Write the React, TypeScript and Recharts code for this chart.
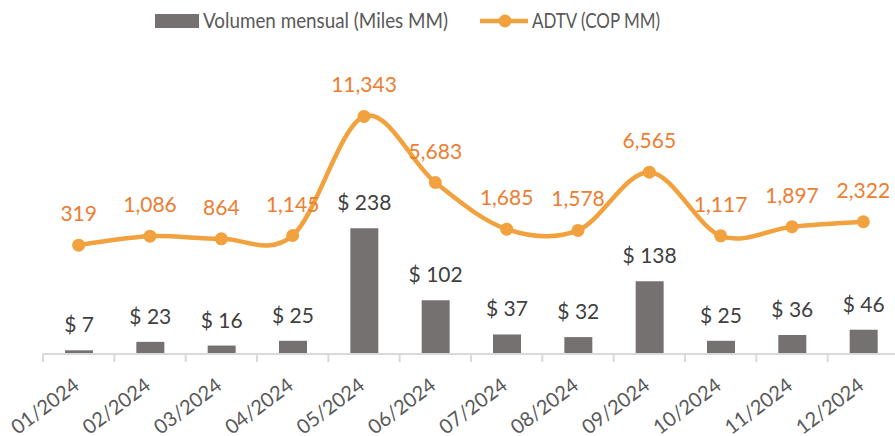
import React from "react";
import { ComposedChart, Bar, Line, XAxis, YAxis, LabelList, Legend } from "recharts";

const months = ["01/2024","02/2024","03/2024","04/2024","05/2024","06/2024","07/2024","08/2024","09/2024","10/2024","11/2024","12/2024"];
const volumen = [7, 23, 16, 25, 238, 102, 37, 32, 138, 25, 36, 46];
const adtv = [319, 1086, 864, 1145, 11343, 5683, 1685, 1578, 6565, 1117, 1897, 2322];

const data = months.map((m, i) => ({ month: m, vol: volumen[i], adtv: adtv[i] }));

const FONT = "Lato, 'Open Sans', sans-serif";
const BAR_COLOR = "#767171";
const LINE_COLOR = "#F1A13D";
const LINE_LABEL = "#ED7D31";
const TEXT_GRAY = "#595959";
const AXIS_GRAY = "#D9D9D9";

// Catmull-Rom style cardinal curve (like Excel's smoothed line)
function cardinalCurve(context: any) {
  const k = 1 / 6;
  let x0 = NaN, y0 = NaN, x1 = NaN, y1 = NaN, x2 = NaN, y2 = NaN;
  let pt = 0;
  let line: number = NaN;
  const seg = (x: number, y: number) => {
    context.bezierCurveTo(
      x1 + k * (x2 - x0), y1 + k * (y2 - y0),
      x2 + k * (x1 - x), y2 + k * (y1 - y),
      x2, y2
    );
  };
  return {
    areaStart() { line = 0; },
    areaEnd() { line = NaN; },
    lineStart() { x0 = x1 = x2 = y0 = y1 = y2 = NaN; pt = 0; },
    lineEnd() {
      switch (pt) {
        case 2: context.lineTo(x2, y2); break;
        case 3: seg(x1, y1); break;
      }
      if (line || (line !== 0 && pt === 1)) context.closePath();
      line = 1 - line;
    },
    point(x: number, y: number) {
      x = +x; y = +y;
      switch (pt) {
        case 0: pt = 1; line ? context.lineTo(x, y) : context.moveTo(x, y); break;
        case 1: pt = 2; x1 = x; y1 = y; break;
        case 2: pt = 3; seg(x, y); break;
        default: seg(x, y); break;
      }
      x0 = x1; x1 = x2; x2 = x;
      y0 = y1; y1 = y2; y2 = y;
    },
  };
}

const CategoryTick = (props: any) => {
  const { x, y, payload, index, visibleTicksCount } = props;
  const half = payload && payload.offset ? payload.offset : 0;
  const isLast = index === (visibleTicksCount ?? 12) - 1;
  return (
    <g>
      <line x1={x - half} x2={x - half} y1={y - 8} y2={y} stroke={AXIS_GRAY} strokeWidth={2} />
      {isLast && <line x1={x + half} x2={x + half} y1={y - 8} y2={y} stroke={AXIS_GRAY} strokeWidth={2} />}
      <text
        x={x + 2}
        y={y + 26}
        textAnchor="end"
        transform={`rotate(-37, ${x + 2}, ${y + 26})`}
        fill={TEXT_GRAY}
        fontSize={20}
        fontFamily={FONT}
      >
        {payload.value}
      </text>
    </g>
  );
};

const BarLabel = (props: any) => {
  const { x, y, width, value } = props;
  return (
    <text x={Number(x) + Number(width) / 2} y={Number(y) - 18} textAnchor="middle" fill="#404040" fontSize={21} fontFamily={FONT}>
      {`$ ${value}`}
    </text>
  );
};

const LineLabel = (props: any) => {
  const { x, y, value } = props;
  return (
    <text x={Number(x)} y={Number(y) - 24} textAnchor="middle" fill={LINE_LABEL} fontSize={21} fontFamily={FONT}>
      {Number(value).toLocaleString("en-US")}
    </text>
  );
};

const LegendContent = () => (
  <svg width={895} height={40} style={{ display: "block" }}>
    <rect x={155} y={14} width={44} height={14} fill={BAR_COLOR} />
    <text x={203} y={28} fill={TEXT_GRAY} fontSize={21} fontFamily={FONT} textLength={245} lengthAdjust="spacingAndGlyphs">Volumen mensual (Miles MM)</text>
    <line x1={480} x2={528} y1={21} y2={21} stroke={LINE_COLOR} strokeWidth={4.5} />
    <circle cx={505} cy={21} r={6.5} fill={LINE_COLOR} />
    <text x={532} y={28} fill={TEXT_GRAY} fontSize={21} fontFamily={FONT} textLength={128} lengthAdjust="spacingAndGlyphs">ADTV (COP MM)</text>
  </svg>
);

export default function App() {
  return (
    <div style={{ position: "absolute", left: 0, top: 0, width: 895, height: 436, overflow: "hidden", background: "#fff", fontFamily: FONT }}>
      <ComposedChart width={900} height={436} data={data} margin={{ top: 62, right: 1, left: 43, bottom: 0 }}>
        <XAxis
          dataKey="month"
          height={82}
          interval={0}
          axisLine={{ stroke: AXIS_GRAY, strokeWidth: 2 }}
          tickLine={false}
          tick={<CategoryTick />}
        />
        <YAxis yAxisId="l" hide width={0} domain={[0, 553]} />
        <YAxis yAxisId="r" orientation="right" hide width={0} domain={[-9000, 16000]} />
        <Legend
          verticalAlign="middle"
          align="center"
          wrapperStyle={{ top: 0, left: 0, width: 895, height: 40 }}
          content={<LegendContent />}
        />
        <Bar yAxisId="l" dataKey="vol" fill={BAR_COLOR} barSize={28} isAnimationActive={false}>
          <LabelList dataKey="vol" content={<BarLabel />} />
        </Bar>
        <Line
          yAxisId="r"
          dataKey="adtv"
          type={cardinalCurve as any}
          stroke={LINE_COLOR}
          strokeWidth={4.5}
          dot={{ r: 6.5, fill: LINE_COLOR, stroke: "none" }}
          activeDot={false}
          isAnimationActive={false}
        >
          <LabelList dataKey="adtv" content={<LineLabel />} />
        </Line>
      </ComposedChart>
    </div>
  );
}
